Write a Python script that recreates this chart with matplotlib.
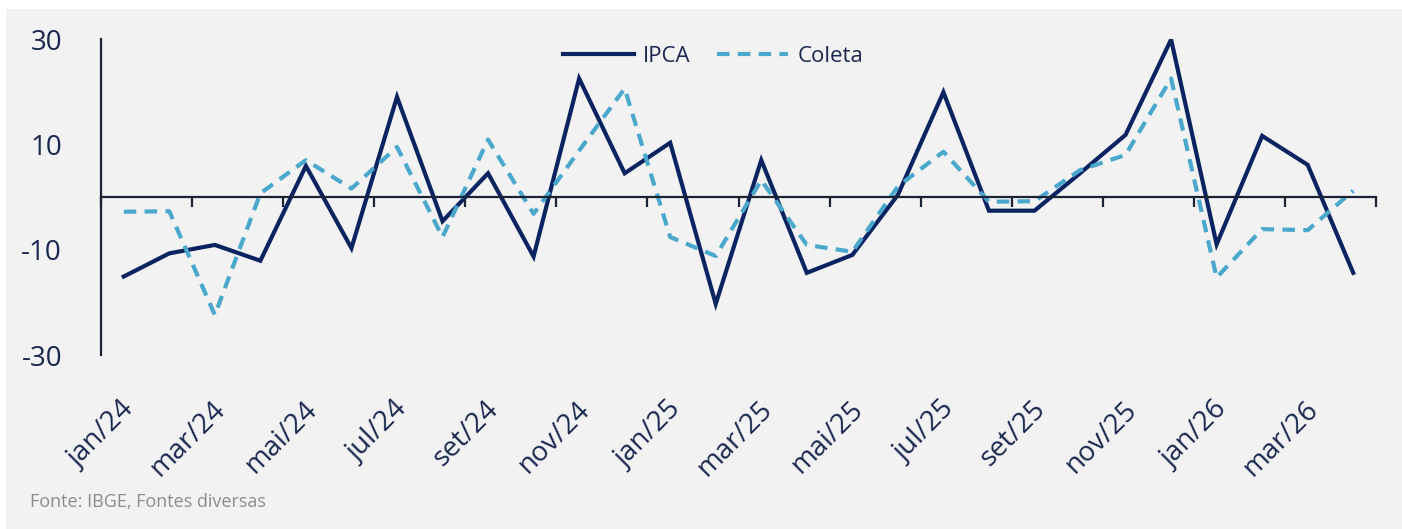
import matplotlib
matplotlib.use("Agg")
import matplotlib.pyplot as plt
import matplotlib.transforms as mtransforms
from matplotlib.patches import Rectangle

months = ["jan/24", "fev/24", "mar/24", "abr/24", "mai/24", "jun/24", "jul/24", "ago/24",
          "set/24", "out/24", "nov/24", "dez/24", "jan/25", "fev/25", "mar/25", "abr/25",
          "mai/25", "jun/25", "jul/25", "ago/25", "set/25", "out/25", "nov/25", "dez/25",
          "jan/26", "fev/26", "mar/26", "abr/26"]
ipca = [-15.1, -10.7, -9.1, -12.1, 5.9, -9.7, 19.0, -4.6,
        4.5, -11.3, 22.5, 4.5, 10.3, -20.3, 7.0, -14.4,
        -11.0, 0.4, 19.9, -2.6, -2.6, 4.5, 11.8, 29.9,
        -9.0, 11.6, 6.1, -14.4]
coleta = [-2.8, -2.7, -22.4, 0.7, 7.0, 1.6, 9.5, -7.6,
          10.9, -3.2, 8.8, 20.6, -7.6, -11.2, 3.2, -9.1,
          -10.4, 2.0, 8.6, -0.9, -0.8, 5.1, 8.0, 22.5,
          -15.3, -6.1, -6.3, 1.2]
yticks = [-30, -10, 10, 30]

NAVY = "#0b2461"
LIGHT = "#4aa8cc"
TEXT = "#1a2850"
BG = "#f2f2f2"

plt.rcParams["font.family"] = ["Open Sans", "DejaVu Sans"]
plt.rcParams["axes.unicode_minus"] = False

fig = plt.figure(figsize=(14.02, 5.29), dpi=100, facecolor="white")
fig.patches.append(Rectangle((6 / 1402, 0), 1, 1 - 9 / 529, transform=fig.transFigure,
                             facecolor=BG, edgecolor="none", zorder=-10))
ax = fig.add_axes([101 / 1402, 1 - 355 / 529, 1275 / 1402, 316 / 529])
ax.set_facecolor("none")

x = list(range(len(months)))
ax.plot(x, ipca, color=NAVY, lw=3, label="IPCA", solid_joinstyle="miter")
ax.plot(x, coleta, color=LIGHT, lw=3, ls=(0, (3, 2)), label="Coleta")

ax.set_xlim(-0.5, len(months) - 0.5)
ax.set_ylim(-30, 30)
ax.set_yticks(yticks)
ax.tick_params(axis="y", length=0, pad=28, labelsize=20, labelcolor=TEXT)

ax.spines["top"].set_visible(False)
ax.spines["right"].set_visible(False)
ax.spines["left"].set_linewidth(1.6)
ax.spines["left"].set_color("#1b2233")
ax.spines["bottom"].set_position(("data", 0))
ax.spines["bottom"].set_linewidth(1.6)
ax.spines["bottom"].set_color("#1b2233")

# ticks sit between months, every two months
ax.set_xticks([i - 0.5 for i in range(0, len(months) + 1, 2)])
ax.set_xticklabels([])
ax.tick_params(axis="x", length=7, width=1.6, color="#1b2233", direction="out")

trans = mtransforms.blended_transform_factory(ax.transData, ax.transAxes)
for i in range(0, len(months), 2):
    ax.text(i + 0.15, -0.16, months[i], transform=trans, rotation=45,
            rotation_mode="anchor", ha="right", va="center", fontsize=20, color=TEXT)

ax.legend(loc="center", bbox_to_anchor=(0.48, 0.946), ncol=2, frameon=False,
          fontsize=16, handlelength=3.2, columnspacing=1.2, handletextpad=0.4,
          labelcolor=TEXT)

fig.text(30 / 1402, 1 - 502 / 529, "Fonte: IBGE, Fontes diversas", fontsize=13,
         color="#8c8c8c", va="center")

fig.savefig("out.png", dpi=100, facecolor=fig.get_facecolor())
